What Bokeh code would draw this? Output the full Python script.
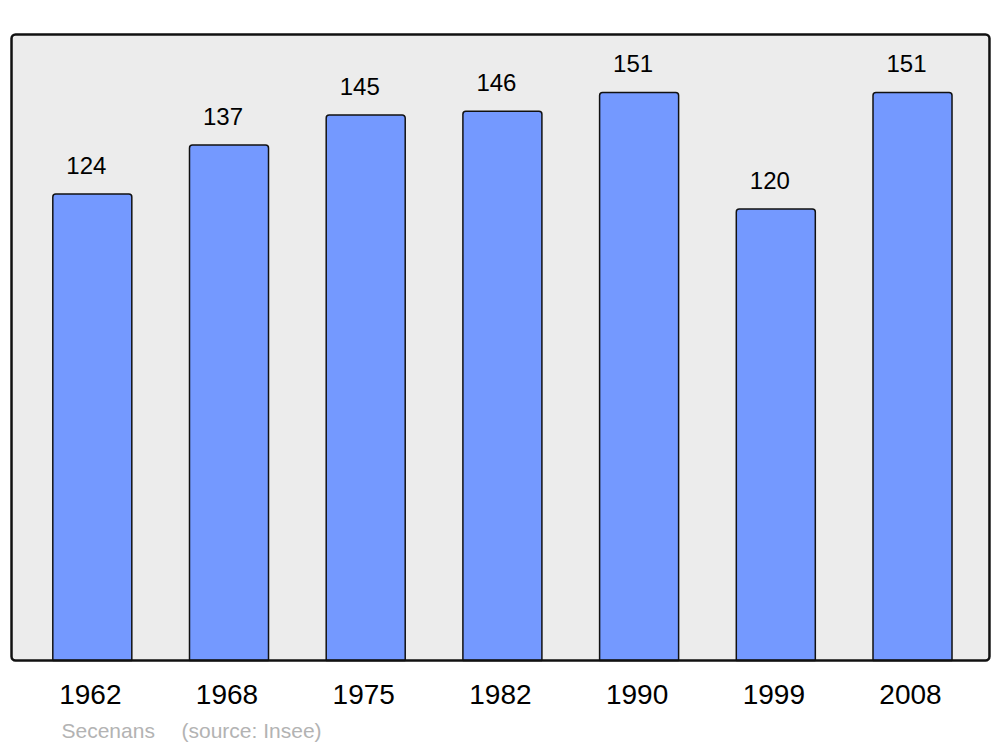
from bokeh.plotting import figure
from bokeh.models import ColumnDataSource, Range1d, BoxAnnotation, Label
from bokeh.core.properties import value
from bokeh.embed import file_html
from bokeh.resources import INLINE

years = ["1962", "1968", "1975", "1982", "1990", "1999", "2008"]
population = [124, 137, 145, 146, 151, 120, 151]
commune = "Secenans"
source_note = "(source: Insee)"

xs = list(range(len(years)))
src = ColumnDataSource(dict(x=xs, pop=population, label=[str(v) for v in population],
                            year=years, zero=[0] * len(years)))

FONT = "Liberation Sans"

# the frame covers the whole canvas; the grey panel is drawn as a box inside it
p = figure(width=1000, height=747, output_backend="svg", toolbar_location=None,
           x_range=Range1d(-0.6716, 6.6437), y_range=Range1d(-23.13, 175.44),
           min_border_left=0, min_border_right=0, min_border_top=0, min_border_bottom=0)
p.background_fill_color = "white"
p.border_fill_color = "white"
p.outline_line_color = None
p.grid.visible = False
p.axis.visible = False

panel_fill = BoxAnnotation(left=-0.591, right=6.563, bottom=0, top=166.4,
                           fill_color="#ececec", fill_alpha=1.0, line_alpha=0,
                           border_radius=4, level="underlay")
p.add_layout(panel_fill)

p.vbar(x="x", top="pop", bottom=0, width=0.578, source=src,
       fill_color="#7499ff", line_color="#111111", line_width=1.5,
       border_radius=(3, 3, 0, 0))

panel_line = BoxAnnotation(left=-0.591, right=6.563, bottom=0, top=166.4,
                           fill_alpha=0, line_color="#111111", line_alpha=1.0,
                           line_width=2.5, border_radius=4, level="overlay")
p.add_layout(panel_line)

p.text(x="x", y="pop", text="label", source=src, x_offset=-6, y_offset=-29,
       text_align="center", text_baseline="alphabetic",
       text_font=value(FONT), text_font_size="24px", text_color="black")

p.text(x="x", y="zero", text="year", source=src, x_offset=-2, y_offset=34,
       text_align="center", text_baseline="alphabetic",
       text_font=value(FONT), text_font_size="28px", text_color="black")

p.add_layout(Label(x=61, y=17, x_units="screen", y_units="screen", text=commune,
                   text_font=FONT, text_font_size="21px", text_color="#b3b3b3",
                   text_baseline="alphabetic"))
p.add_layout(Label(x=181, y=17, x_units="screen", y_units="screen", text=source_note,
                   text_font=FONT, text_font_size="21px", text_color="#b3b3b3",
                   text_baseline="alphabetic"))

open("out.html", "w").write(file_html(p, INLINE))
